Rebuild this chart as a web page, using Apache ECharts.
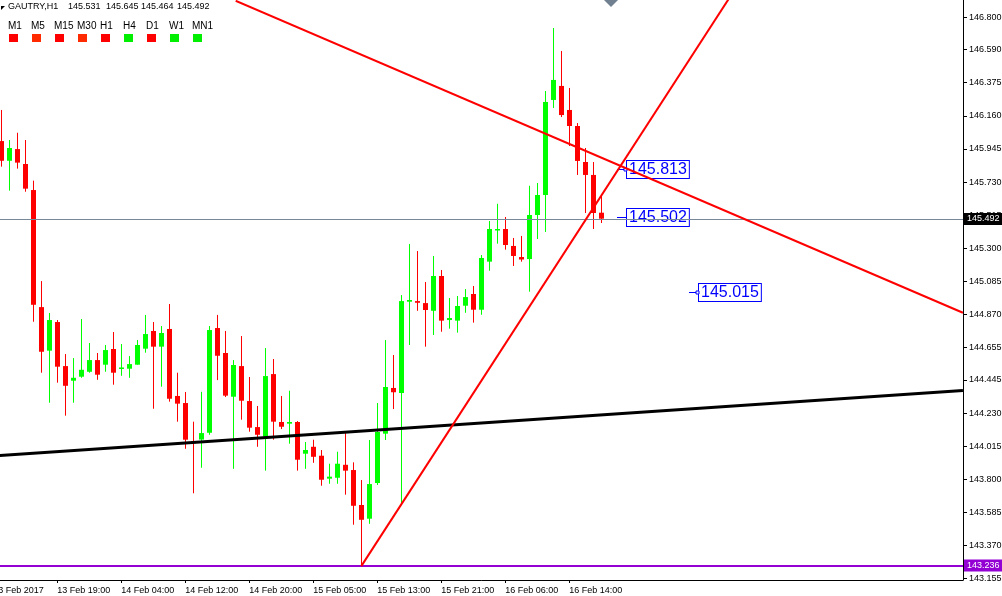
<!DOCTYPE html>
<html><head><meta charset="utf-8">
<script src="https://cdn.jsdelivr.net/npm/echarts@6/dist/echarts.min.js"></script>
<style>html,body{margin:0;padding:0;background:#fff;}#c{width:1002px;height:596px;}</style>
</head><body><div id="c"></div>
<script>
// ---------- data ----------
const symbolName = 'GAUTRY,H1';
const opens  = [145.996,145.868,145.944,145.847,145.678,144.918,144.635,144.821,144.535,144.440,144.466,144.498,144.574,144.544,144.646,144.519,144.518,144.544,144.648,144.763,144.661,144.776,144.341,144.295,144.045,144.058,144.102,144.782,144.620,144.336,144.535,144.308,144.139,144.076,144.483,144.172,144.161,144.172,143.966,144.011,143.953,143.804,143.810,143.894,143.860,143.633,143.544,143.776,144.096,144.393,144.360,144.953,144.957,144.944,144.894,145.120,144.834,144.830,144.927,145.003,144.901,145.213,145.418,145.425,145.315,145.243,145.230,145.516,145.646,146.263,146.354,146.198,146.094,145.860,145.776,145.531];
const highs  = [146.198,146.003,146.050,146.003,145.739,145.087,144.880,144.834,144.613,144.587,144.841,144.685,144.620,144.672,144.756,144.678,144.600,144.704,144.867,144.821,144.795,144.938,144.492,144.367,144.174,144.368,144.795,144.867,144.763,144.574,144.730,144.464,144.276,144.652,144.581,144.341,144.375,144.178,144.042,144.057,143.990,143.901,143.979,144.113,143.910,143.795,144.055,144.295,144.704,144.607,144.996,145.328,145.282,145.081,145.250,145.159,144.977,144.990,145.035,145.055,145.256,145.477,145.589,145.503,145.367,145.380,145.706,145.724,146.321,146.730,146.581,146.341,146.113,145.951,145.860,145.645];
const lows   = [145.830,145.674,145.817,145.667,144.823,144.492,144.297,144.427,144.213,144.297,144.459,144.492,144.446,144.498,144.414,144.472,144.459,144.544,144.622,144.258,144.401,144.304,144.174,143.998,143.709,143.875,144.089,144.444,144.334,143.868,144.187,144.109,144.011,143.856,144.057,144.126,144.031,143.856,143.868,143.907,143.758,143.771,143.771,143.700,143.505,143.236,143.511,143.763,144.055,144.256,143.637,144.672,144.894,144.661,144.737,144.758,144.778,144.752,144.881,144.817,144.868,145.154,145.330,145.291,145.185,145.213,145.018,145.360,145.406,146.211,146.152,145.964,145.776,145.529,145.425,145.464];
const closes = [145.868,145.951,145.856,145.687,144.933,144.628,144.834,144.531,144.407,144.459,144.511,144.574,144.479,144.639,144.492,144.526,144.548,144.672,144.743,144.661,144.750,144.323,144.291,144.057,144.040,144.100,144.769,144.602,144.343,144.542,144.310,144.135,144.089,144.470,144.174,144.141,144.172,143.927,143.990,143.946,143.797,143.817,143.901,143.856,143.628,143.537,143.769,144.107,144.399,144.365,144.957,144.964,144.946,144.899,145.120,144.830,144.847,144.925,144.983,144.901,145.237,145.425,145.425,145.321,145.250,145.227,145.516,145.646,146.250,146.393,146.165,146.094,145.867,145.776,145.529,145.492];

const timeLabelIdx = [-1, 7, 15, 23, 31, 39, 47, 55, 63, 71];
const timeLabels = ['13 Feb 2017','13 Feb 19:00','14 Feb 04:00','14 Feb 12:00','14 Feb 20:00','15 Feb 05:00','15 Feb 13:00','15 Feb 21:00','16 Feb 06:00','16 Feb 14:00'];
const priceTicks = [143.155,143.370,143.585,143.800,144.015,144.230,144.445,144.655,144.870,145.085,145.300,145.515,145.730,145.945,146.160,146.375,146.590,146.800];

const bidPrice = 145.492;
const supportLevel = 143.236;
const tagIdx = [77, 77, 86];
const tagPrices = [145.813, 145.502, 145.015];
const downTrend = [[29.3, 146.907], [120.2, 144.881]];
const upTrend   = [[45, 143.236], [91, 146.925]];
const baseTrend = [[-1.6, 143.949], [120.2, 144.377]];

const tfNames  = ['M1','M5','M15','M30','H1','H4','D1','W1','MN1'];
const tfColors = ['#ff0000','#ff2a00','#ff0000','#ff2a00','#ff0000','#00ee00','#ff0000','#00ee00','#00ee00'];

// ---------- chart ----------
const FONT = '"Liberation Sans", Arial, sans-serif';
const xMin = -1.6625, xMax = 120.2125;
const yMin = 143.146, yMax = 146.912;
const candleData = opens.map((o, i) => [i, o, closes[i], lows[i], highs[i]]);
const tagData = tagPrices.map((p, k) => [tagIdx[k], p, k]);
const last = opens.length - 1;

const chart = echarts.init(document.getElementById('c'), null, {renderer: 'canvas'});

const graphic = [];
graphic.push({type:'polygon', shape:{points:[[1,6],[5,6],[1,10]]}, style:{fill:'#000'}});
graphic.push({type:'text', x:8, y:7, style:{text:symbolName, font:'9px ' + FONT, fill:'#000', verticalAlign:'middle'}});
const hv = [opens[last], highs[last], lows[last], closes[last]];
const hx = [68, 106, 141, 177];
hv.forEach((v, k) => graphic.push({type:'text', x:hx[k], y:7, style:{text:v.toFixed(3), font:'9px ' + FONT, fill:'#000', verticalAlign:'middle'}}));
tfNames.forEach((n, k) => {
  graphic.push({type:'text', x:8 + 23 * k, y:26, style:{text:n, font:'10px ' + FONT, fill:'#000', verticalAlign:'middle'}});
  graphic.push({type:'rect', shape:{x:9 + 23 * k, y:34, width:9, height:8}, style:{fill:tfColors[k]}});
});
graphic.push({type:'polygon', shape:{points:[[604,0],[611,-7],[618,0],[611,7]]}, style:{fill:'#708090'}});

const option = {
  animation: false,
  backgroundColor: '#ffffff',
  grid: {left: -12, right: 39, top: 0, bottom: 16, containLabel: false, outerBoundsMode: 'none'},
  xAxis: {
    type: 'value', min: xMin, max: xMax, splitLine: {show: false},
    axisLine: {show: true, onZero: false, lineStyle: {color: '#000', width: 1}},
    axisTick: {show: true, customValues: timeLabelIdx, length: 3, lineStyle: {color: '#000'}},
    axisLabel: {customValues: timeLabelIdx, formatter: v => timeLabels[timeLabelIdx.indexOf(Math.round(v))] || '',
      align: 'left', margin: 6, color: '#000', fontSize: 9, fontFamily: FONT}
  },
  yAxis: {
    type: 'value', position: 'right', min: yMin, max: yMax, splitLine: {show: false},
    axisLine: {show: true, onZero: false, lineStyle: {color: '#000', width: 1}},
    axisTick: {show: true, customValues: priceTicks, length: 4, lineStyle: {color: '#000'}},
    axisLabel: {customValues: priceTicks, formatter: v => v.toFixed(3), margin: 6, color: '#000', fontSize: 9, fontFamily: FONT}
  },
  graphic: graphic,
  series: [
    {
      type: 'custom', name: 'tags', z: 3, clip: false,
      data: tagData, encode: {x: 0, y: 1},
      renderItem: function (params, api) {
        const p = api.coord([api.value(0), api.value(1)]);
        const x = Math.round(p[0]), y = Math.round(p[1]) + 0.5;
        const k = api.value(2);
        const ch = [
          {type:'line', shape:{x1:x, y1:y, x2:x + 10, y2:y}, style:{stroke:'#0000ff', lineWidth:1}},
          {type:'text', x:x + 10, y:y, style:{text: api.value(1).toFixed(3), fill:'#0000ff', font:'16px ' + FONT,
            align:'left', verticalAlign:'middle', backgroundColor:'#fff', borderColor:'#0000ff', borderWidth:1, padding:[1,2,0,2]}}
        ];
        if (k !== 1) ch.push({type:'rect', shape:{x:x + 7, y:y - 1.5, width:3, height:3}, style:{fill:'#fff', stroke:'#0000ff', lineWidth:1}});
        return {type:'group', children: ch};
      }
    },
    {
      type: 'custom', name: 'candles', z: 4,
      data: candleData, encode: {x: 0, y: [1, 2, 3, 4]},
      renderItem: function (params, api) {
        const i = api.value(0), o = api.value(1), c = api.value(2), l = api.value(3), h = api.value(4);
        const pO = api.coord([i, o]), pC = api.coord([i, c]), pL = api.coord([i, l]), pH = api.coord([i, h]);
        const x = Math.round(pO[0]) + 0.5;
        const color = c >= o ? '#00ff00' : '#ff0000';
        const top = Math.min(pO[1], pC[1]), bot = Math.max(pO[1], pC[1]);
        const hgt = Math.max(bot - top, 1.5);
        return {type:'group', children:[
          {type:'line', shape:{x1:x, y1:pH[1], x2:x, y2:pL[1]}, style:{stroke:color, lineWidth:1}},
          {type:'rect', shape:{x:x - 2.5, y:top, width:5, height:hgt}, style:{fill:color}}
        ]};
      }
    },
    {
      type: 'line', name: 'base', z: 5, data: baseTrend, symbol: 'none', clip: true,
      lineStyle: {color: '#000', width: 3},
      markLine: {
        silent: true, symbol: ['none', 'none'], animation: false,
        data: [
          {yAxis: bidPrice, lineStyle: {color: '#778899', width: 1, type: 'solid'},
           label: {show: true, position: 'end', distance: 1, formatter: bidPrice.toFixed(3), color: '#fff', backgroundColor: '#000',
             padding: [2, 4, 1, 3], fontSize: 9, fontFamily: FONT}},
          {yAxis: supportLevel, lineStyle: {color: '#9400d3', width: 2, type: 'solid'},
           label: {show: true, position: 'end', distance: 1, formatter: supportLevel.toFixed(3), color: '#fff', backgroundColor: '#9400d3',
             padding: [2, 4, 1, 3], fontSize: 9, fontFamily: FONT}}
        ]
      }
    },
    {type: 'line', name: 'down', z: 6, data: downTrend, symbol: 'none', clip: true, lineStyle: {color: '#ff0000', width: 2}},
    {type: 'line', name: 'up', z: 6, data: upTrend, symbol: 'none', clip: true, lineStyle: {color: '#ff0000', width: 2}}
  ]
};
chart.setOption(option);
</script>
</body></html>
